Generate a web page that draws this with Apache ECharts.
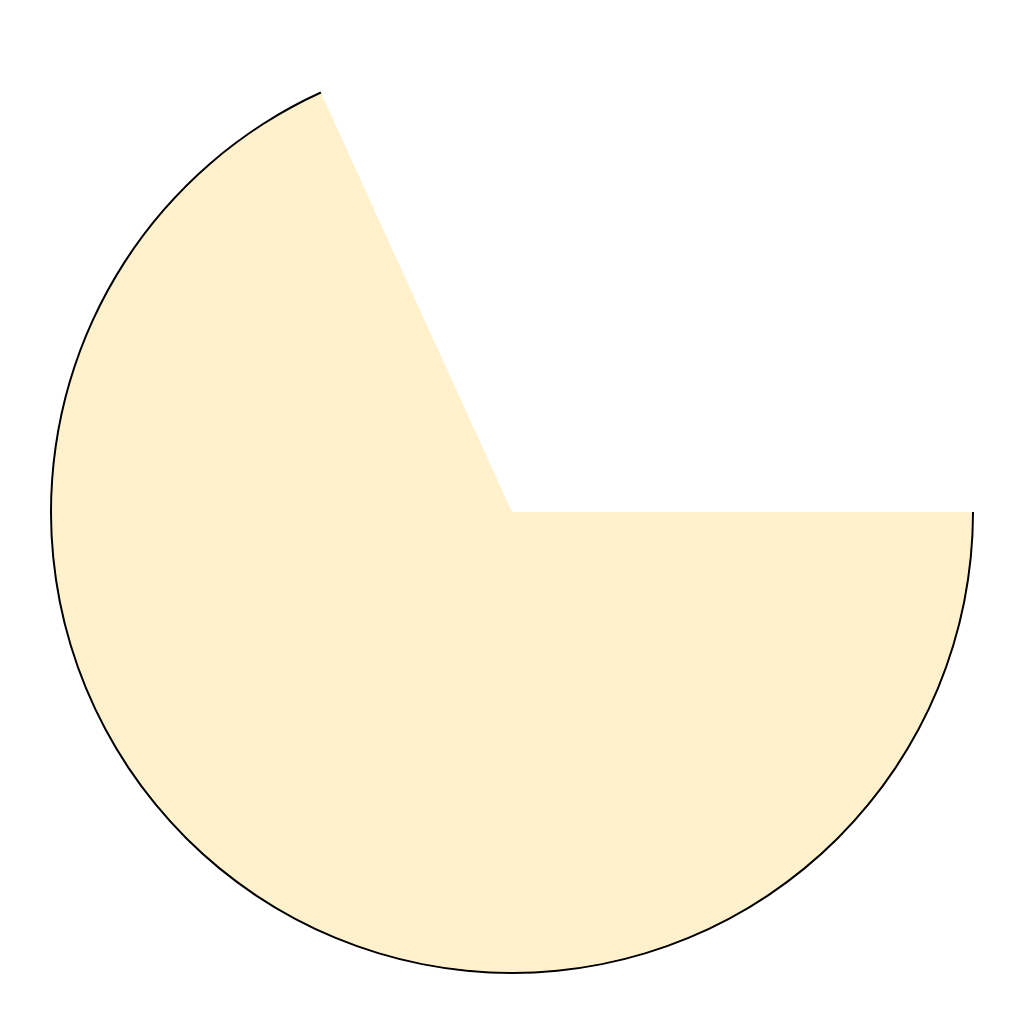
<!DOCTYPE html>
<html>
<head>
<meta charset="utf-8">
<script src="https://cdn.jsdelivr.net/npm/echarts@6/dist/echarts.min.js"></script>
<style>html,body{margin:0;padding:0;background:#fff}#c{width:1024px;height:1024px}</style>
</head>
<body>
<div id="c"></div>
<script>
// Slice data (degrees of a full 360 circle)
const sliceNames = ['filled', 'empty'];
const sliceValues = [245.5, 114.5];
const sliceColors = ['#FFF1CC', 'rgba(0,0,0,0)'];

const chart = echarts.init(document.getElementById('c'), null, {renderer: 'canvas'});
const total = sliceValues[0] + sliceValues[1];
chart.setOption({
  animation: false,
  backgroundColor: '#ffffff',
  series: [
    {
      type: 'pie',
      center: ['50%', '50%'],
      radius: [0, 460],
      startAngle: 0,
      clockwise: true,
      label: {show: false},
      labelLine: {show: false},
      emphasis: {disabled: true},
      silent: true,
      data: sliceNames.map((n, i) => ({name: n, value: sliceValues[i], itemStyle: {color: sliceColors[i]}}))
    },
    {
      type: 'gauge',
      center: ['50%', '50%'],
      radius: 462,
      startAngle: 0,
      endAngle: -sliceValues[0] / total * 360,
      min: 0,
      max: 1,
      silent: true,
      axisLine: {show: true, roundCap: false, lineStyle: {width: 2.6, color: [[1, '#000000']]}},
      axisTick: {show: false},
      splitLine: {show: false},
      axisLabel: {show: false},
      pointer: {show: false},
      anchor: {show: false},
      title: {show: false},
      detail: {show: false},
      data: []
    }
  ]
});
</script>
</body>
</html>
